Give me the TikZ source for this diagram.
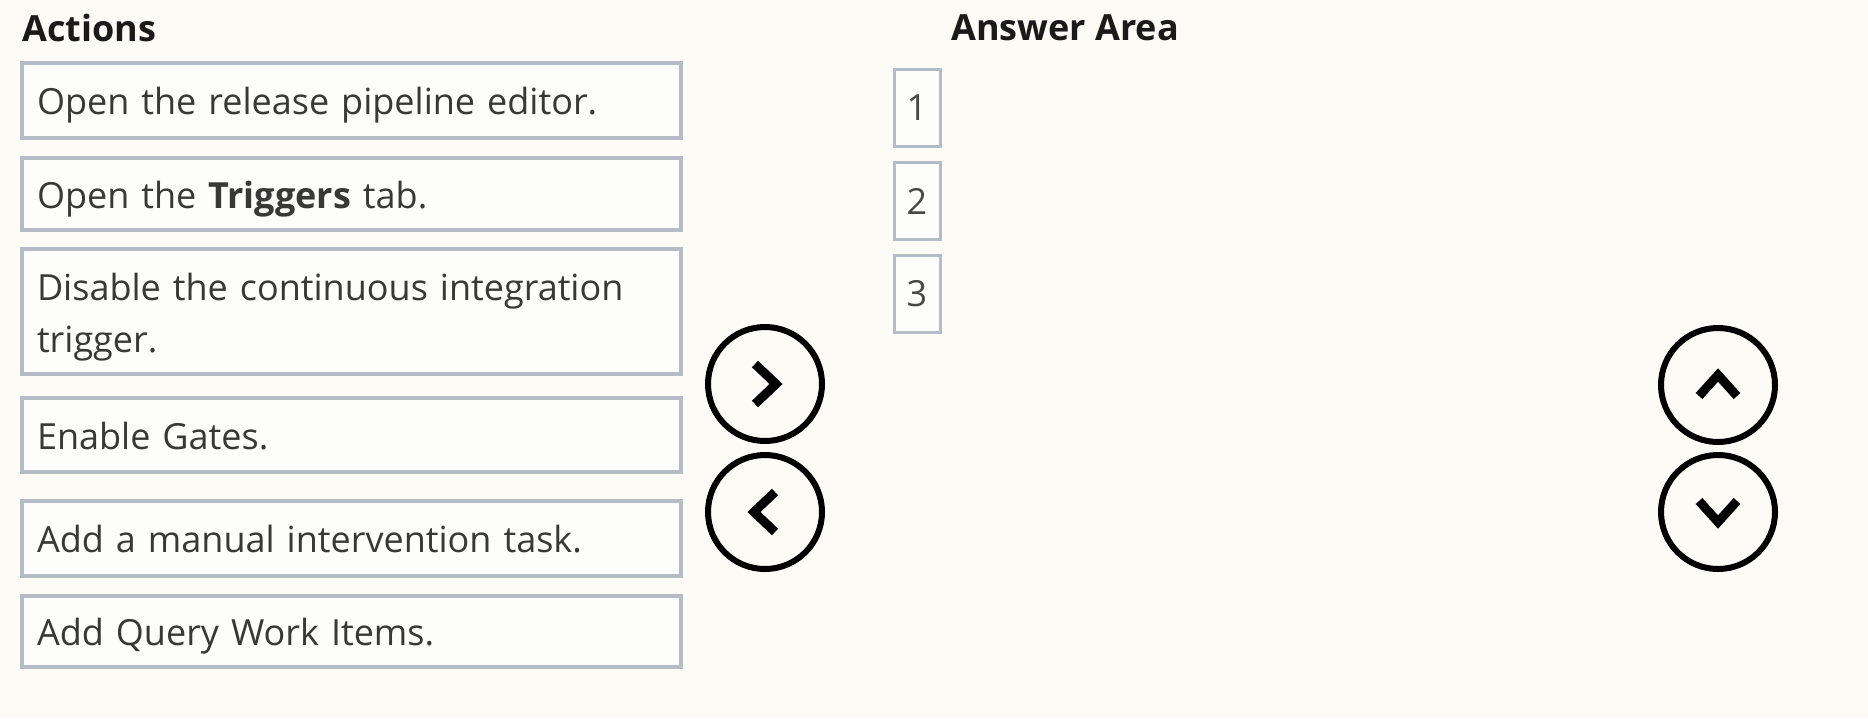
\documentclass[tikz,border=0pt]{standalone}
\usepackage{fontspec}
\setmainfont{Open Sans}
\definecolor{bg}{HTML}{FCFBF6}
\definecolor{boxline}{HTML}{B4BCC8}
\definecolor{boxfill}{HTML}{FDFDFB}
\definecolor{txt}{HTML}{383838}
\definecolor{head}{HTML}{1A1A1A}
\definecolor{numtxt}{HTML}{484848}
\begin{document}
\begin{tikzpicture}[x=1pt,y=-1pt,
  abox/.style={draw=boxline, line width=3.5pt, fill=boxfill,
    minimum width=659pt, text width=629pt, inner xsep=15pt, inner ysep=0pt,
    align=left, font=\fontsize{36}{52}\selectfont, text=txt,
    text height=36pt, text depth=8pt},
  nbox/.style={draw=boxline, line width=3pt, fill=boxfill,
    minimum width=46pt, minimum height=77pt, inner sep=0pt,
    font=\fontsize{36}{44}\selectfont, text=numtxt},
  heading/.style={font=\fontsize{36}{44}\selectfont\bfseries, text=head,
    anchor=base west, inner sep=0pt},
  rbtn/.style={circle, draw=black, line width=6pt, minimum size=114pt, inner sep=0pt},
  chev/.style={draw=black, line width=9pt, line join=miter, line cap=butt}
]
\useasboundingbox (0,0) rectangle (1868,718);
\fill[bg] (0,0) rectangle (1868,718);

% headings
\node[heading] (hact) at (22,41) {Actions};
\node[heading] (hans) at (951,40) {Answer Area};

% action boxes
\node[abox, minimum height=75pt] (a1) at (351.5,100.5) {Open the release pipeline editor.};
\node[abox, minimum height=72pt] (a2) at (351.5,194) {Open the \textbf{Triggers} tab.};
\node[abox, minimum height=125pt, text height=36pt, text depth=59pt] (a3) at (351.5,311.5)
  {Disable the continuous integration\\trigger.};
\node[abox, minimum height=74pt] (a4) at (351.5,435) {Enable Gates.};
\node[abox, minimum height=75pt] (a5) at (351.5,538.5) {Add a manual intervention task.};
\node[abox, minimum height=71pt] (a6) at (351.5,631.5) {Add Query Work Items.};

% answer slots
\node[nbox] (n1) at (917,107.5) {1};
\node[nbox] (n2) at (917,201) {2};
\node[nbox] (n3) at (917,294) {3};

% move buttons
\node[rbtn] (bright) at (765,384) {};
\node[rbtn] (bleft) at (765,512) {};
\node[rbtn] (bup) at (1718,385) {};
\node[rbtn] (bdown) at (1718,512) {};

\draw[chev] ([shift={(-10,-20)}]bright.center) -- ([shift={(11,0)}]bright.center) -- ([shift={(-10,20)}]bright.center);
\draw[chev] ([shift={(10,-20)}]bleft.center) -- ([shift={(-11,0)}]bleft.center) -- ([shift={(10,20)}]bleft.center);
\draw[chev] ([shift={(-19,11)}]bup.center) -- ([shift={(0,-10)}]bup.center) -- ([shift={(19,11)}]bup.center);
\draw[chev] ([shift={(-19,-11)}]bdown.center) -- ([shift={(0,10)}]bdown.center) -- ([shift={(19,-11)}]bdown.center);
\end{tikzpicture}
\end{document}
